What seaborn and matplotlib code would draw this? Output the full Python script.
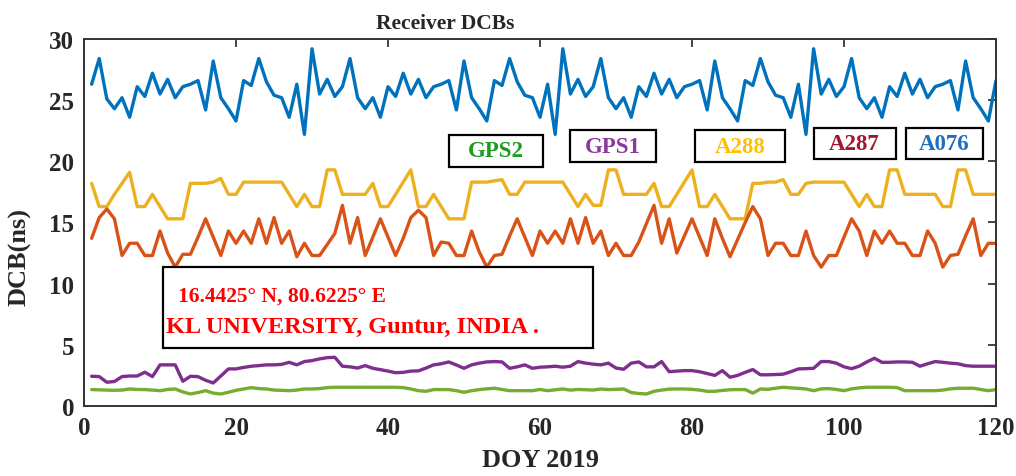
import numpy as np
import pandas as pd
import matplotlib
matplotlib.use("Agg")
import matplotlib.pyplot as plt
from matplotlib.patches import Rectangle
import seaborn as sns

# ---------------- data ----------------
doy = list(range(1, 121))

a076 = [26.3, 28.4, 25.1, 24.3, 25.2, 23.6, 26.1, 25.3, 27.2, 25.5, 26.7, 25.2, 26.1, 26.3, 26.6, 24.2,
        28.2, 25.2, 24.3, 23.3, 26.6, 26.2, 28.4, 26.5, 25.4, 25.2, 23.6, 26.3, 22.2, 29.2, 25.5, 26.7, 25.3,
        26.1, 28.4, 25.2, 24.3, 25.2, 23.6, 26.1, 25.3, 27.2, 25.5, 26.7, 25.2, 26.1, 26.3, 26.6, 24.2,
        28.2, 25.2, 24.3, 23.3, 26.6, 26.2, 28.4, 26.5, 25.4, 25.2, 23.6, 26.3, 22.2, 29.2, 25.5, 26.7, 25.3,
        26.1, 28.4, 25.2, 24.3, 25.2, 23.6, 26.1, 25.3, 27.2, 25.5, 26.7, 25.2, 26.1, 26.3, 26.6, 24.2,
        28.2, 25.2, 24.3, 23.3, 26.6, 26.2, 28.4, 26.5, 25.4, 25.2, 23.6, 26.3, 22.2, 29.2, 25.5, 26.7, 25.3,
        26.1, 28.4, 25.2, 24.3, 25.2, 23.6, 26.1, 25.3, 27.2, 25.5, 26.7, 25.2, 26.1, 26.3, 26.6, 24.2,
        28.2, 25.2, 24.3, 23.3, 26.6]

a288 = [18.2, 16.3, 16.3, 17.3, 18.2, 19.1, 16.3, 16.3, 17.3, 16.3, 15.3, 15.3, 15.3, 18.2, 18.2, 18.2,
        18.3, 18.6, 17.3, 17.3, 18.3, 18.3, 18.3, 18.3, 18.3, 18.3, 17.3, 16.3, 17.3, 16.3, 16.3, 19.3,
        19.3, 17.3, 17.3, 17.3, 17.3, 18.2, 16.3, 16.3, 17.3, 18.3, 19.3, 16.3, 16.3, 17.3, 16.3, 15.3,
        15.3, 15.3, 18.3, 18.3, 18.3, 18.4, 18.5, 17.3, 17.3, 18.3, 18.3, 18.3, 18.3, 18.3, 18.3, 17.3,
        16.3, 17.3, 16.4, 16.4, 19.3, 19.3, 17.3, 17.3, 17.3, 17.3, 18.2, 16.3, 16.3, 17.3, 18.3, 19.3,
        16.3, 16.3, 17.3, 16.3, 15.3, 15.3, 15.3, 18.2, 18.2, 18.3, 18.3, 18.5, 17.3, 17.3, 18.2, 18.3,
        18.3, 18.3, 18.3, 18.3, 17.3, 16.3, 17.3, 16.3, 16.3, 19.3, 19.3, 17.3, 17.3, 17.3, 17.3, 17.3,
        16.3, 16.3, 19.3, 19.3, 17.3, 17.3, 17.3, 17.3]

a287 = [13.7, 15.4, 16.1, 15.3, 12.3, 13.3, 13.3, 12.3, 12.3, 14.3, 12.5, 11.35, 12.4, 12.4, 13.8, 15.3,
        13.8, 12.3, 14.3, 13.3, 14.3, 13.3, 15.3, 13.3, 15.4, 13.3, 14.3, 12.2, 13.3, 12.3, 12.3, 13.2,
        14.1, 16.4, 13.3, 15.4, 12.3, 13.8, 15.3, 13.8, 12.3, 13.7, 15.4, 16.0, 15.4, 12.3, 13.4, 13.3,
        12.3, 12.3, 14.3, 12.6, 11.35, 12.3, 12.4, 13.9, 15.3, 13.8, 12.3, 14.3, 13.3, 14.3, 13.3, 15.3,
        13.3, 15.4, 13.3, 14.3, 12.3, 13.3, 12.3, 12.3, 13.4, 14.9, 16.4, 13.3, 15.3, 12.5, 13.9, 15.3,
        13.8, 12.3, 15.3, 13.7, 12.2, 13.6, 15.0, 16.3, 15.3, 12.3, 13.3, 13.3, 12.3, 12.3, 14.3, 12.3,
        11.35, 12.3, 12.3, 13.8, 15.3, 14.3, 12.3, 14.3, 13.3, 14.3, 13.3, 13.3, 12.3, 12.3, 14.3, 13.3,
        11.35, 12.3, 12.4, 13.9, 15.3, 12.3, 13.3, 13.3]

gps1 = [2.43, 2.4, 1.94, 2.0, 2.4, 2.45, 2.45, 2.76, 2.4, 3.36, 3.36, 3.36, 2.02, 2.43, 2.4, 2.1,
        1.88, 2.45, 3.03, 3.03, 3.15, 3.25, 3.3, 3.36, 3.36, 3.4, 3.57, 3.36, 3.63, 3.71, 3.85, 3.95,
        3.98, 3.25, 3.2, 3.1, 3.3, 3.08, 2.97, 2.85, 2.72, 2.75, 2.85, 2.87, 3.1, 3.36, 3.45, 3.6,
        3.35, 3.08, 3.36, 3.5, 3.6, 3.63, 3.6, 3.08, 3.2, 3.36, 3.08, 3.17, 3.2, 3.25, 3.17, 3.25,
        3.63, 3.5, 3.42, 3.36, 3.5, 3.1, 3.0, 3.5, 3.6, 3.2, 3.2, 3.63, 2.8, 2.85, 2.89, 2.89,
        2.8, 2.65, 2.5, 2.89, 2.35, 2.5, 2.75, 2.98, 2.55, 2.55, 2.57, 2.6, 2.8, 3.03, 3.05, 3.08,
        3.63, 3.63, 3.5, 3.2, 3.05, 3.25, 3.6, 3.9, 3.57, 3.57, 3.6, 3.6, 3.57, 3.25, 3.45, 3.63,
        3.57, 3.5, 3.45, 3.3, 3.25, 3.25, 3.25, 3.25]

gps2 = [1.34, 1.32, 1.30, 1.28, 1.30, 1.39, 1.35, 1.34, 1.30, 1.25, 1.35, 1.39, 1.15, 0.98, 1.10, 1.25,
        1.05, 0.98, 1.12, 1.28, 1.39, 1.50, 1.42, 1.39, 1.30, 1.28, 1.25, 1.30, 1.39, 1.39, 1.42, 1.50,
        1.53, 1.53, 1.53, 1.53, 1.53, 1.53, 1.53, 1.53, 1.53, 1.50, 1.39, 1.25, 1.20, 1.34, 1.34, 1.34,
        1.25, 1.12, 1.25, 1.34, 1.40, 1.45, 1.35, 1.25, 1.25, 1.25, 1.25, 1.35, 1.25, 1.32, 1.39, 1.30,
        1.35, 1.33, 1.30, 1.39, 1.34, 1.36, 1.39, 1.10, 1.02, 0.98, 1.20, 1.30, 1.38, 1.39, 1.39, 1.36,
        1.30, 1.20, 1.20, 1.27, 1.33, 1.34, 1.34, 1.05, 1.39, 1.36, 1.45, 1.53, 1.48, 1.44, 1.39, 1.25,
        1.40, 1.42, 1.35, 1.25, 1.40, 1.48, 1.53, 1.53, 1.53, 1.53, 1.50, 1.25, 1.25, 1.25, 1.25, 1.25,
        1.30, 1.40, 1.45, 1.45, 1.45, 1.35, 1.25, 1.34]

series_names = ["A076", "A288", "A287", "GPS1", "GPS2"]
x_ticks = [0, 20, 40, 60, 80, 100, 120]
y_ticks = [0, 5, 10, 15, 20, 25, 30]

# ---------------- styling ----------------
sns.set_style("white")
plt.rcParams["font.family"] = ["Liberation Serif", "DejaVu Serif"]
plt.rcParams["font.weight"] = "bold"

line_colors = {"A076": "#0072BD", "A288": "#EDB120", "A287": "#D95319",
               "GPS1": "#7E2F8E", "GPS2": "#77AC30"}

df = pd.DataFrame({"DOY": doy, "A076": a076, "A288": a288, "A287": a287,
                   "GPS1": gps1, "GPS2": gps2})
long = df.melt(id_vars="DOY", var_name="Receiver", value_name="DCB")

fig = plt.figure(figsize=(10.16, 4.77), dpi=100)
ax = fig.add_axes([0.0827, 0.1468, 0.8976, 0.7694])

sns.lineplot(data=long, x="DOY", y="DCB", hue="Receiver", hue_order=series_names,
             palette=line_colors, linewidth=2.4, legend=False, ax=ax)

ax.set_xlim(0, 120)
ax.set_ylim(0, 30)
ax.set_xticks(x_ticks)
ax.set_yticks(y_ticks)
ax.tick_params(direction="in", length=6, width=1.2, top=True, right=True,
               labelsize=18, pad=7)
for lab in ax.get_xticklabels() + ax.get_yticklabels():
    lab.set_fontweight("bold")
for sp in ax.spines.values():
    sp.set_visible(True)
    sp.set_color("#333333")
    sp.set_linewidth(1.4)

ax.set_title("Receiver DCBs", fontsize=15.5, fontweight="bold", pad=8, x=0.396)
ax.set_xlabel("DOY 2019", fontsize=19, fontweight="bold", labelpad=7)
ax.set_ylabel("DCB(ns)", fontsize=19, fontweight="bold")
ax.yaxis.set_label_coords(-0.058, 0.41)

# ---------------- label boxes ----------------
label_boxes = [
    ("GPS2", "#1E9A1E", 0.400, 0.652, 0.103, 0.086),
    ("GPS1", "#8B3A9B", 0.533, 0.665, 0.094, 0.086),
    ("A288", "#FFC000", 0.670, 0.665, 0.099, 0.086),
    ("A287", "#A2142F", 0.800, 0.672, 0.090, 0.086),
    ("A076", "#1F6FC0", 0.901, 0.672, 0.085, 0.086),
]
for text, col, bx, by, bw, bh in label_boxes:
    ax.add_patch(Rectangle((bx, by), bw, bh, transform=ax.transAxes, fill=True,
                           facecolor="white", edgecolor="black", linewidth=1.6, zorder=5))
    ax.text(bx + bw / 2, by + bh / 2, text, transform=ax.transAxes, ha="center", va="center",
            color=col, fontsize=16.5, fontweight="bold", zorder=6)

# location box
ax.add_patch(Rectangle((0.0866, 0.158), 0.471, 0.221, transform=ax.transAxes, fill=True,
                       facecolor="white", edgecolor="black", linewidth=1.6, zorder=5))
ax.text(0.103, 0.300, "16.4425° N, 80.6225° E", transform=ax.transAxes, ha="left",
        va="center", color="#FF0000", fontsize=15.5, fontweight="bold", zorder=6)
ax.text(0.090, 0.218, "KL UNIVERSITY, Guntur, INDIA .", transform=ax.transAxes, ha="left",
        va="center", color="#FF0000", fontsize=17.5, fontweight="bold", zorder=6)

fig.savefig("out.png", dpi=100)
